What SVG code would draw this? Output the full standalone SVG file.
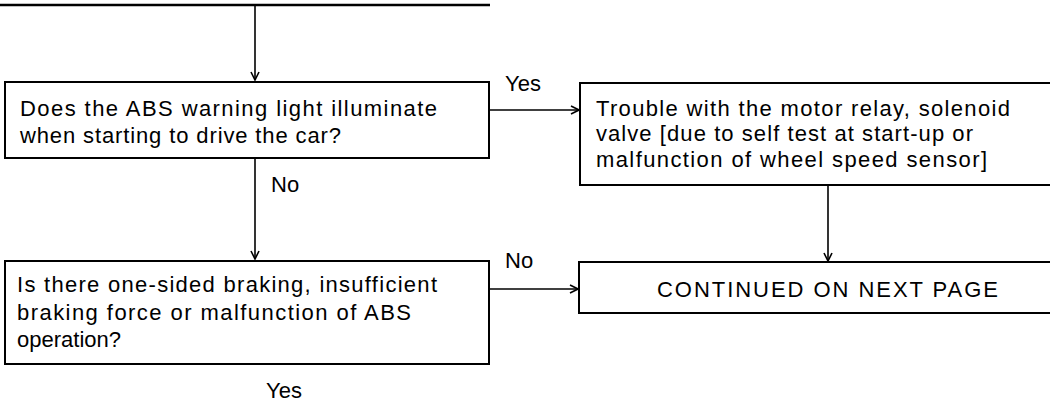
<svg xmlns="http://www.w3.org/2000/svg" width="1050" height="403" viewBox="0 0 1050 403">
<style>
.box{fill:#fff;stroke:#000;stroke-width:2}
.t{font-family:"Liberation Sans",Arial,sans-serif;font-size:22px;fill:#000}
.c{fill:none;stroke:#000;stroke-width:1.6}
</style>
<defs>
<marker id="ah" viewBox="0 0 10 10" refX="9" refY="5" markerWidth="10" markerHeight="10" markerUnits="userSpaceOnUse" orient="auto">
<path d="M1,1 L9,5 L1,9" fill="none" stroke="#000" stroke-width="1.6"/>
</marker>
</defs>
<g id="connectors">
<line x1="0" y1="5" x2="490" y2="5" stroke="#000" stroke-width="2.5"/>
<line class="c" x1="255" y1="6" x2="255" y2="80" marker-end="url(#ah)"/>
<line class="c" x1="489" y1="110" x2="579" y2="110" marker-end="url(#ah)"/>
<line class="c" x1="255" y1="158" x2="255" y2="259" marker-end="url(#ah)"/>
<line class="c" x1="828" y1="185" x2="828" y2="261" marker-end="url(#ah)"/>
<line class="c" x1="489" y1="289" x2="578" y2="289" marker-end="url(#ah)"/>
<text class="t" x="505" y="91">Yes</text>
<text class="t" x="271" y="192">No</text>
<text class="t" x="505" y="268">No</text>
<text class="t" x="266" y="398">Yes</text>
</g>
<g id="q1">
<rect class="box" x="5" y="82" width="484" height="76"/>
<text class="t" x="20" y="116" textLength="417" lengthAdjust="spacing">Does the ABS warning light illuminate</text>
<text class="t" x="20" y="143" textLength="321" lengthAdjust="spacing">when starting to drive the car?</text>
</g>
<g id="r1">
<rect class="box" x="580" y="83" width="480" height="102"/>
<text class="t" x="596" y="116" textLength="414" lengthAdjust="spacing">Trouble with the motor relay, solenoid</text>
<text class="t" x="596" y="141" textLength="377" lengthAdjust="spacing">valve [due to self test at start-up or</text>
<text class="t" x="596" y="167" textLength="391" lengthAdjust="spacing">malfunction of wheel speed sensor]</text>
</g>
<g id="q2">
<rect class="box" x="5" y="261" width="484" height="103"/>
<text class="t" x="17" y="292" textLength="420" lengthAdjust="spacing">Is there one-sided braking, insufficient</text>
<text class="t" x="17" y="320" textLength="394" lengthAdjust="spacing">braking force or malfunction of ABS</text>
<text class="t" x="17" y="347">operation?</text>
</g>
<g id="next">
<rect class="box" x="579" y="262" width="481" height="51"/>
<text class="t" x="657" y="297" textLength="341" lengthAdjust="spacing">CONTINUED ON NEXT PAGE</text>
</g>
</svg>
